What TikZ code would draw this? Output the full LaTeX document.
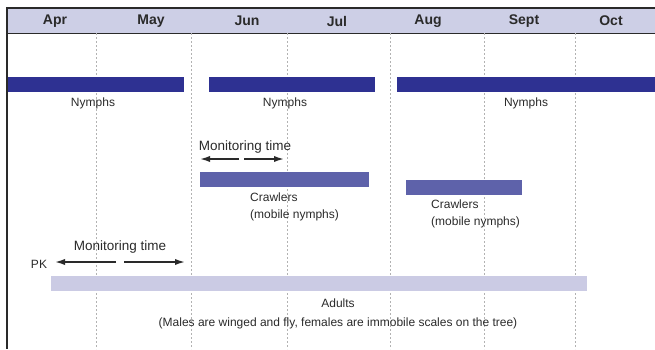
\documentclass[tikz,border=0pt]{standalone}
\usepackage{fontspec}
\setmainfont{Liberation Sans}
\usetikzlibrary{positioning,arrows.meta}
\definecolor{headfill}{HTML}{CDCFE6}
\definecolor{nymphblue}{HTML}{2E3192}
\definecolor{crawlblue}{HTML}{5E62AA}
\definecolor{adultblue}{HTML}{CBCBE4}
\definecolor{textgray}{HTML}{2A2A2A}
\tikzset{
  month/.style={font=\fontsize{14}{16}\selectfont\bfseries,text=textgray},
  label/.style={font=\fontsize{12}{17}\selectfont,text=textgray,inner sep=0pt,align=left},
  montext/.style={font=\fontsize{13.5}{15}\selectfont,text=textgray,inner sep=0pt},
  bar/.style={draw=none,inner sep=0pt,minimum height=15pt,anchor=north west},
  montip/.style={-{Latex[length=12pt,width=6pt]},line width=2.4pt,textgray},
  grid/.style={gray!60,dash pattern=on 2pt off 2pt,line width=0.4pt}
}
\begin{document}
\begin{tikzpicture}[x=1pt,y=-1pt]
\useasboundingbox (0,0) rectangle (655,349);
% header
\fill[headfill] (6,8) rectangle (655,33);
\draw[line width=1.2pt,textgray] (6,8) -- (655,8);
\draw[line width=1pt,textgray] (6,33) -- (655,33);
\draw[line width=1.5pt,textgray] (7,8) -- (7,349);
\foreach \x in {96,191,287,390,484,575}
  \draw[grid] (\x,33) -- (\x,349);
\node[month] (apr) at (55,21) {Apr};
\node[month] (may) at (151,21) {May};
\node[month] (jun) at (247,21) {Jun};
\node[month] (jul) at (337,21) {Jul};
\node[month] (aug) at (428,21) {Aug};
\node[month] (sep) at (524,21) {Sept};
\node[month] (oct) at (611,21) {Oct};
% nymphs
\node[bar,fill=nymphblue,minimum width=176pt] (nymA) at (8,77) {};
\node[bar,fill=nymphblue,minimum width=166pt] (nymB) at (209,77) {};
\node[bar,fill=nymphblue,minimum width=258pt] (nymC) at (397,77) {};
\node[label] (nymAl) at (93,103) {Nymphs};
\node[label] (nymBl) at (285,103) {Nymphs};
\node[label] (nymCl) at (526,103) {Nymphs};
% crawlers
\node[bar,fill=crawlblue,minimum width=169pt] (crwA) at (200,172) {};
\node[bar,fill=crawlblue,minimum width=116pt] (crwB) at (406,180) {};
\node[label,anchor=north west] (crwAl) at (250,193) {Crawlers\\(mobile nymphs)};
\node[label,anchor=north west] (crwBl) at (431,200) {Crawlers\\(mobile nymphs)};
\node[montext] (monA) at (245,147) {Monitoring time};
\coordinate (monAl) at (239,159);
\coordinate (monAle) at (198,159);
\coordinate (monAr) at (244,159);
\coordinate (monAre) at (286,159);
\draw[montip] (monAl) -- (monAle);
\draw[montip] (monAr) -- (monAre);
% adults
\node[bar,fill=adultblue,minimum width=536pt] (adl) at (51,276) {};
\node[label,align=center,font=\fontsize{12}{19}\selectfont] (adlt) at (338,314) {Adults\\(Males are winged and fly, females are immobile scales on the tree)};
\node[montext] (monB) at (120,247) {Monitoring time};
\node[label] (pk) at (39,264) {PK};
\coordinate (monBl) at (116,262);
\coordinate (monBle) at (53,262);
\coordinate (monBr) at (124,262);
\coordinate (monBre) at (187,262);
\draw[montip] (monBl) -- (monBle);
\draw[montip] (monBr) -- (monBre);
\end{tikzpicture}
\end{document}
